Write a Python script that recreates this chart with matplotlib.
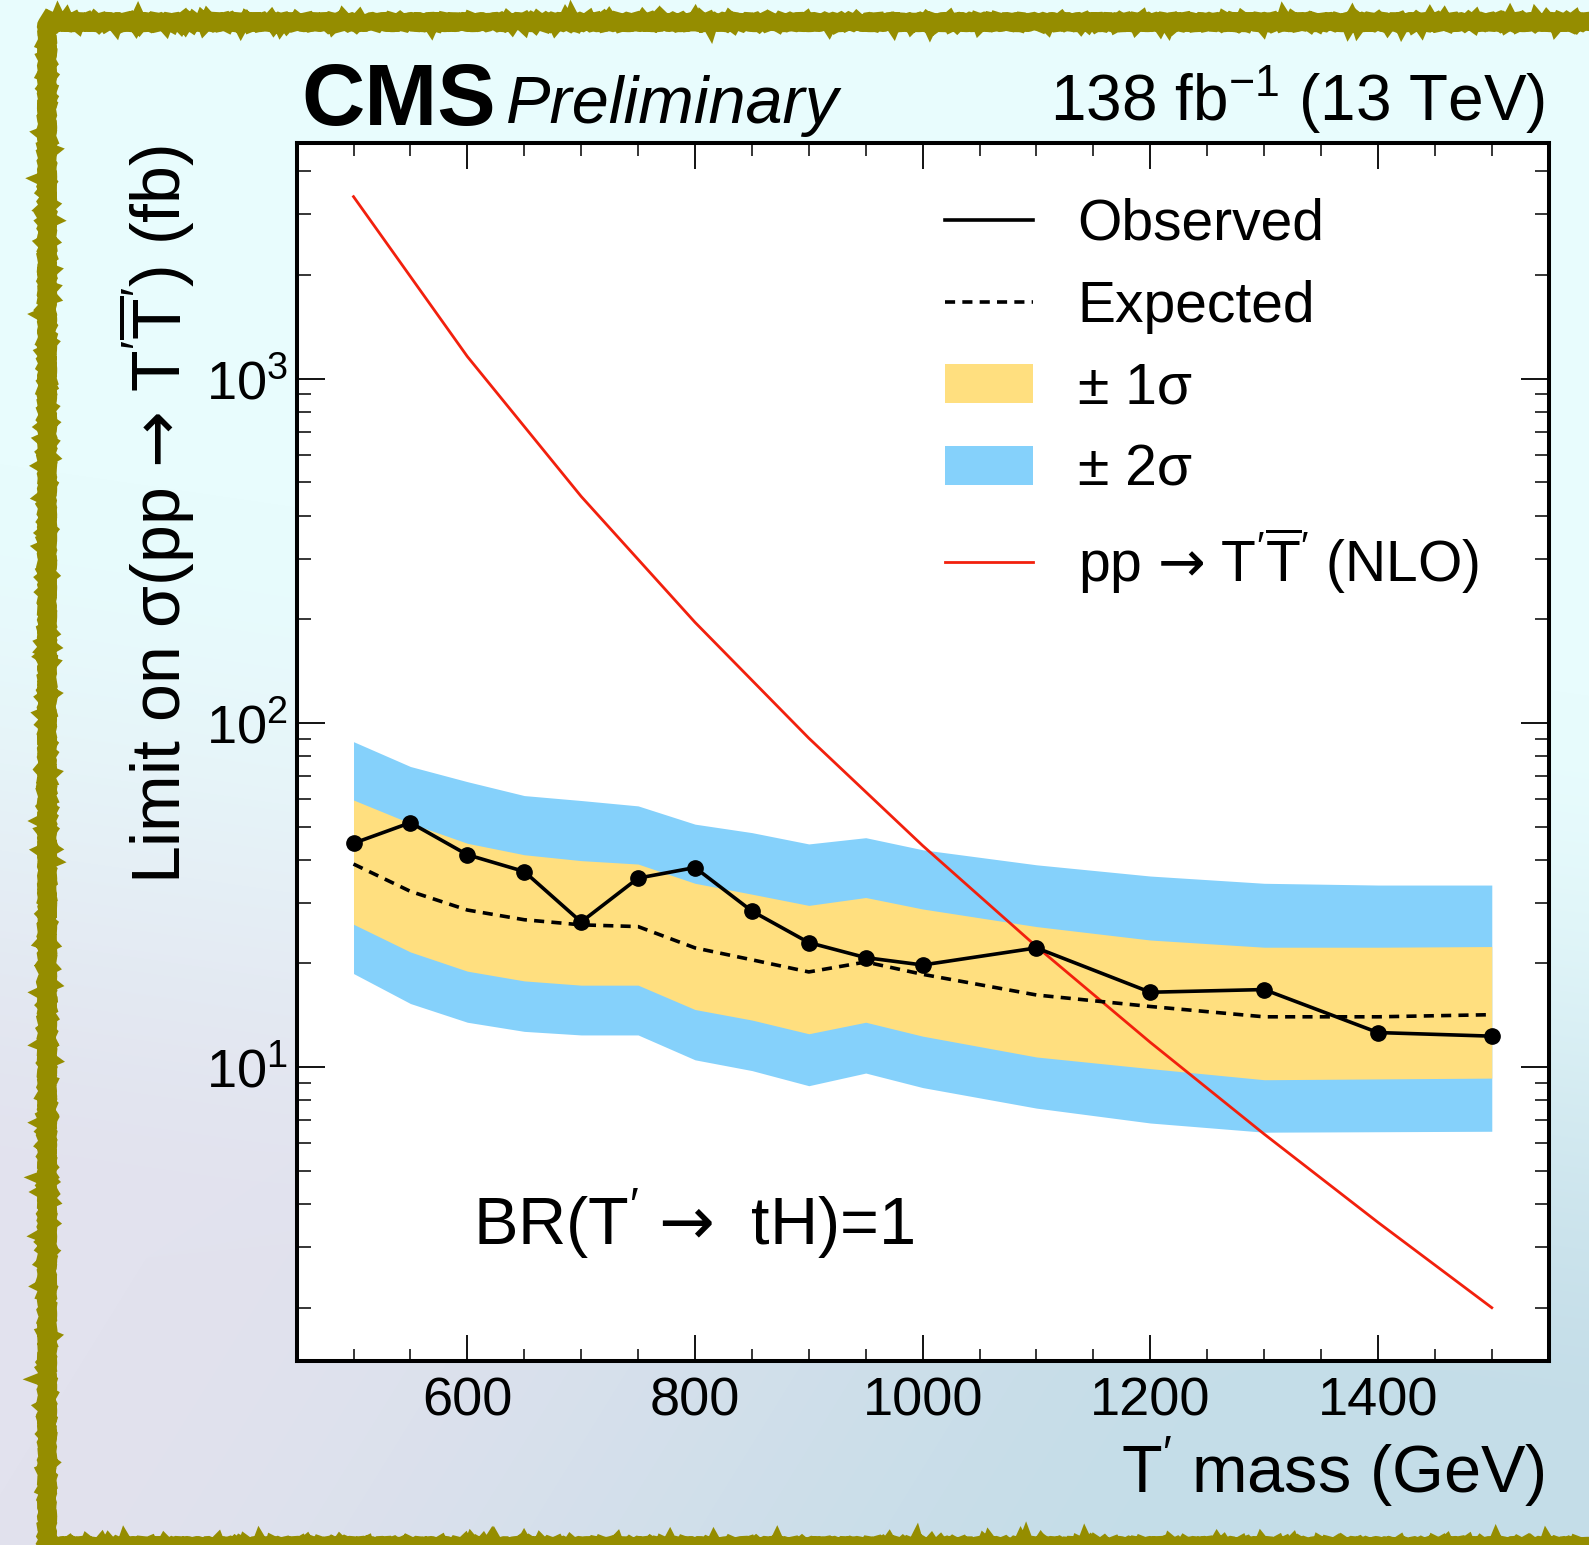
import numpy as np
import matplotlib
matplotlib.use("Agg")
import matplotlib.pyplot as plt
from matplotlib.lines import Line2D
from matplotlib.patches import Patch, Rectangle
from matplotlib.ticker import FixedLocator, LogLocator, NullFormatter, FuncFormatter, MultipleLocator

plt.rcParams["font.family"] = ["Liberation Sans", "DejaVu Sans"]
plt.rcParams["mathtext.fontset"] = "custom"
plt.rcParams["mathtext.rm"] = "Liberation Sans"
plt.rcParams["mathtext.it"] = "Liberation Sans:italic"
plt.rcParams["mathtext.bf"] = "Liberation Sans:bold"
plt.rcParams["mathtext.sf"] = "DejaVu Sans"

# ---- limits (fb) vs T' mass (GeV) ----
mass = [500, 550, 600, 650, 700, 750, 800, 850, 900, 950, 1000, 1100, 1200, 1300, 1400, 1500]
observed = [44.7, 51.3, 41.4, 37.0, 26.4, 35.4, 38.0, 28.4, 23.0, 20.8, 19.8, 22.2, 16.5, 16.8, 12.6, 12.3]
expected = [38.9, 32.4, 28.6, 26.8, 25.9, 25.6, 22.2, 20.5, 18.9, 20.2, 18.6, 16.2, 15.0, 14.0, 14.0, 14.2]
exp_up1 = [59.7, 51.1, 44.7, 41.4, 39.8, 38.9, 34.2, 31.8, 29.5, 31.1, 28.8, 25.6, 23.4, 22.3, 22.3, 22.4]
exp_dn1 = [26.0, 21.6, 19.0, 17.8, 17.3, 17.3, 14.7, 13.7, 12.5, 13.5, 12.3, 10.7, 9.9, 9.19, 9.24, 9.29]
exp_up2 = [88.2, 74.7, 67.5, 61.5, 59.5, 57.4, 50.8, 48.0, 44.5, 46.4, 42.8, 38.7, 35.9, 34.2, 33.8, 33.8]
exp_dn2 = [18.7, 15.3, 13.5, 12.7, 12.4, 12.4, 10.5, 9.77, 8.83, 9.61, 8.72, 7.60, 6.88, 6.47, 6.49, 6.51]

# NLO pair-production cross section (fb)
theory_mass = [500, 600, 700, 800, 900, 1000, 1100, 1200, 1300, 1400, 1500]
theory_xsec = [3380, 1160, 455, 196, 90.3, 44.0, 22.4, 11.8, 6.39, 3.54, 2.00]

x_major = [600, 800, 1000, 1200, 1400]
y_major = [10, 100, 1000]

W, H = 1589, 1545
fig = plt.figure(figsize=(W / 100, H / 100), dpi=100)

# soft gradient backdrop
yy, xx = np.mgrid[0:H, 0:W]
v = yy / H
u = xx / W
def smooth(a, b, t):
    s = np.clip((t - a) / (b - a), 0, 1)
    return s * s * (3 - 2 * s)
c_top = np.array([232, 252, 253]) / 255
c_lav = np.array([226, 226, 238]) / 255
c_blu = np.array([196, 221, 232]) / 255
mix = smooth(0.1, 0.9, u + 0.6 * (v - 0.8))[..., None]
low = c_lav[None, None, :] * (1 - mix) + c_blu[None, None, :] * mix
w = smooth(0.45, 0.95, v + 0.15 * (1 - u))[..., None]
bg = c_top[None, None, :] * (1 - w) + low * w
fig.figimage(bg, xo=0, yo=0, origin="upper", zorder=-10)

# rough olive frame
for lw, sc, ln in [(12.5, 1.0, 30), (11.5, 2.0, 9)]:
    r = Rectangle((47 / W, -1 / H), 1.1, (H - 21) / H, transform=fig.transFigure,
                  fill=False, edgecolor="#958d00", linewidth=lw, zorder=-5)
    r.set_sketch_params(scale=sc, length=ln, randomness=3)
    fig.add_artist(r)

ax = fig.add_axes([296.6 / W, (H - 1361) / H, (1548.7 - 296.6) / W, (1361 - 143.3) / H])
ax.set_facecolor("white")

ax.fill_between(mass, exp_dn2, exp_up2, color="#85D1FB", lw=0, zorder=1)
ax.fill_between(mass, exp_dn1, exp_up1, color="#FFDF7F", lw=0, zorder=2)
ax.plot(theory_mass, theory_xsec, color="#f2200d", lw=2.0, zorder=3)
ax.plot(mass, expected, color="black", lw=2.6, ls=(0, (2.8, 2.0)), zorder=4)
ax.plot(mass, observed, color="black", lw=2.6, marker="o", ms=11, zorder=5)

ax.set_yscale("log")
ax.set_xlim(450, 1550)
ax.set_ylim(1.4, 4830)

ax.xaxis.set_major_locator(FixedLocator(x_major))
ax.xaxis.set_minor_locator(MultipleLocator(50))
ax.yaxis.set_major_locator(FixedLocator(y_major))
ax.yaxis.set_minor_locator(LogLocator(base=10, subs=range(2, 10)))
ax.yaxis.set_minor_formatter(NullFormatter())
ax.yaxis.set_major_formatter(FuncFormatter(lambda val, p: r"$10^{%d}$" % round(np.log10(val))))

ax.tick_params(which="both", direction="in", top=True, right=True, labelsize=39)
ax.tick_params(axis="x", which="major", length=19, width=1.3, pad=11)
ax.tick_params(axis="x", which="minor", length=9, width=1.1)
ax.tick_params(axis="y", which="major", length=20, width=1.3, pad=6)
ax.tick_params(axis="y", which="minor", length=10, width=1.1)
for s in ax.spines.values():
    s.set_linewidth(2.9)

ARROW = r"$\mathsf{→}$"
TPAIR = r"$\mathrm{T}^{\prime}\overline{\mathrm{T}}^{\prime}$"

# headers
fig.text(301.7 / W, (H - 125) / H, "CMS", fontsize=63, fontweight="bold", ha="left", va="baseline")
fig.text(505.7 / W, (H - 122.6) / H, "Preliminary", fontsize=48, style="italic", ha="left", va="baseline")
fig.text(1545 / W, (H - 120.7) / H, r"138 fb$^{-1}$ (13 TeV)", fontsize=46, ha="right", va="baseline")

fig.text(1544.5 / W, (H - 1493) / H, r"T$^{\prime}$ mass (GeV)", fontsize=48, ha="right", va="baseline")
fig.text(181 / W, (H - 145) / H, "Limit on σ(pp " + ARROW + " " + TPAIR + ") (fb)",
         fontsize=49, rotation=90, rotation_mode="anchor", ha="right", va="baseline")
fig.text(472.6 / W, (H - 1245) / H, r"BR(T$^{\prime}$ " + ARROW + "  tH)=1", fontsize=48,
         ha="left", va="baseline")

handles = [
    Line2D([], [], color="black", lw=2.6),
    Line2D([], [], color="black", lw=2.6, ls=(0, (2.8, 2.0))),
    Patch(facecolor="#FFDF7F", edgecolor="none"),
    Patch(facecolor="#85D1FB", edgecolor="none"),
    Line2D([], [], color="#f2200d", lw=2.0),
]
labels = ["Observed", "Expected", "± 1σ", "± 2σ", "pp " + ARROW + " " + TPAIR + " (NLO)"]
ax.legend(handles, labels, loc="upper left", bbox_to_anchor=(945 / W, (H - 198) / H),
          bbox_transform=fig.transFigure, frameon=False, fontsize=41, handlelength=1.54,
          handleheight=0.68, handletextpad=0.79, labelspacing=0.49, borderpad=0, borderaxespad=0)

fig.savefig("out.png", dpi=100)
